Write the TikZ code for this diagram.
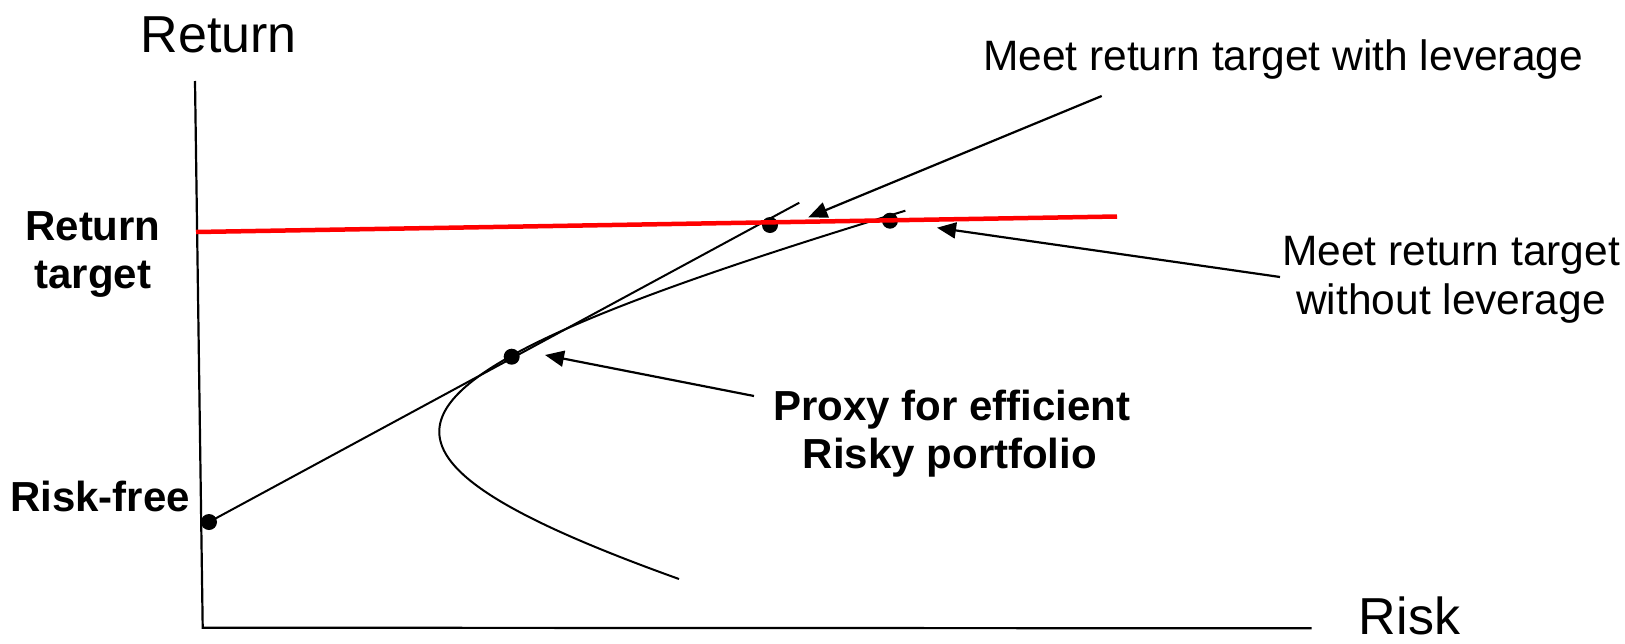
\documentclass[tikz,border=0pt]{standalone}
\usepackage{fontspec}
\setmainfont{Liberation Sans}
\usetikzlibrary{arrows.meta}
\begin{document}
\begin{tikzpicture}[x=1pt,y=-1pt,
  axisline/.style={line width=2.2pt, black},
  curveline/.style={line width=2pt, black},
  targetline/.style={line width=4.5pt, red},
  leader/.style={line width=2.2pt, -{Triangle[length=19pt,width=16pt]}},
  dotnode/.style={circle, fill=black, inner sep=0pt, minimum size=16pt},
  bigtext/.style={font=\fontsize{52}{60}\selectfont, inner sep=0pt, anchor=base},
  plaintext/.style={font=\fontsize{42.5}{48}\selectfont, inner sep=0pt, anchor=base},
  boldtext/.style={font=\fontsize{42}{48}\selectfont\bfseries, inner sep=0pt, anchor=base}
]
\useasboundingbox (0,0) rectangle (1625,643);

% axes
\coordinate (ytop) at (195,81);
\coordinate (origin) at (202.7,627.7);
\coordinate (xend) at (1311.7,628.3);
\draw[axisline] (ytop) -- (origin) -- (xend);

% efficient frontier (hyperbola)
\draw[curveline] plot[domain=-221:147.3, samples=150, variable=\t]
  ({439.3+597*(sqrt(1+(\t/150)^2)-1)}, {431.7+\t});

% dots
\node[dotnode] (rf) at (209,522) {};
\node[dotnode] (tan) at (511.7,356.7) {};
\node[dotnode] (lev) at (770,225) {};
\node[dotnode] (nolev) at (890,220.7) {};

% capital market line
\coordinate (cmlend) at (799.3,202.7);
\draw[curveline] (rf.center) -- (cmlend);

% return target line
\coordinate (rt1) at (196,232);
\coordinate (rt2) at (1117,216.5);
\draw[targetline] (rt1) -- (rt2);

% labels
\node[bigtext] (ylab) at (218.7,52) {Return};
\node[bigtext] (xlab) at (1409.5,634) {Risk};
\node[boldtext] (rtA) at (93,240.5) {Return};
\node[boldtext] (rtB) at (93,288.5) {target};
\node[boldtext] (rflab) at (100,511) {Risk-free};
\node[plaintext] (withlev) at (1283,70.7) {Meet return target with leverage};
\node[plaintext] (nolevA) at (1451,265.7) {Meet return target};
\node[plaintext] (nolevB) at (1451,314) {without leverage};
\node[boldtext] (proxyA) at (951.7,420) {Proxy for efficient};
\node[boldtext] (proxyB) at (950,468) {Risky portfolio};

% leader arrows
\coordinate (l1s) at (1101.7,96);
\coordinate (l1e) at (808.3,217.3);
\coordinate (l2s) at (1280,277);
\coordinate (l2e) at (937,227.7);
\coordinate (l3s) at (754,396);
\coordinate (l3e) at (545,355);
\draw[leader] (l1s) -- (l1e);
\draw[leader] (l2s) -- (l2e);
\draw[leader] (l3s) -- (l3e);
\end{tikzpicture}
\end{document}
